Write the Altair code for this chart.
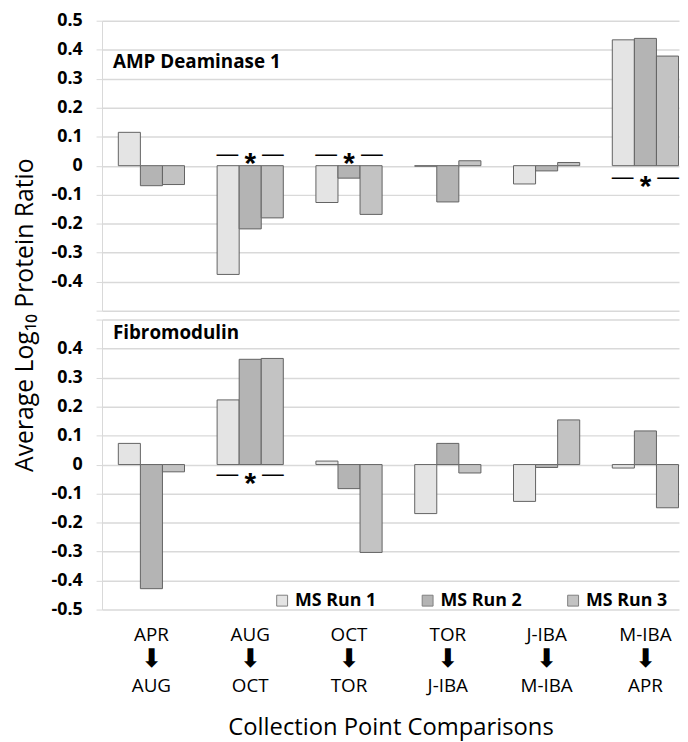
import altair as alt
import pandas as pd

# ---- data ----
from_pts = ["APR", "AUG", "OCT", "TOR", "J-IBA", "M-IBA"]
to_pts = ["AUG", "OCT", "TOR", "J-IBA", "M-IBA", "APR"]
runs = ["MS Run 1", "MS Run 2", "MS Run 3"]

amp_run1 = [0.115, -0.375, -0.127, -0.002, -0.063, 0.434]
amp_run2 = [-0.069, -0.218, -0.043, -0.125, -0.018, 0.439]
amp_run3 = [-0.065, -0.180, -0.168, 0.017, 0.011, 0.378]

fib_run1 = [0.073, 0.223, 0.012, -0.169, -0.127, -0.012]
fib_run2 = [-0.428, 0.363, -0.083, 0.073, -0.010, 0.116]
fib_run3 = [-0.025, 0.366, -0.303, -0.029, 0.154, -0.149]

amp_sig_cmp = ["AUG", "OCT", "M-IBA"]
amp_sig_val = [0.039, 0.039, -0.040]
fib_sig_cmp = ["AUG"]
fib_sig_val = [-0.032]

tick_vals = [0.5, 0.4, 0.3, 0.2, 0.1, 0, -0.1, -0.2, -0.3, -0.4, -0.5]

cats = [f"{a}|{b}" for a, b in zip(from_pts, to_pts)]
cat_of = dict(zip(from_pts, cats))


def bars_df(r1, r2, r3):
    rows = []
    for i, c in enumerate(cats):
        for run, vals in zip(runs, [r1, r2, r3]):
            rows.append({"cmp": c, "run": run, "value": vals[i]})
    return pd.DataFrame(rows)


def sig_df(cmps, vals):
    return pd.DataFrame({"cmp": [cat_of[c] for c in cmps], "value": vals})


W, H = 583, 293
FONT = "Open Sans"
colors = ["#e4e4e4", "#b4b4b4", "#c3c3c3"]
GRID = "#d9d9d9"

xscale = alt.Scale(domain=cats, paddingInner=0.33, paddingOuter=0.085, align=0.97)
yscale = alt.Scale(domain=[-0.5, 0.5], nice=False)
offscale = alt.Scale(domain=runs, paddingInner=0, paddingOuter=0)
cscale = alt.Scale(domain=runs, range=colors)


def yaxis(hide_val, title=None):
    kw = dict(
        values=tick_vals,
        labelExpr=f"datum.value == {hide_val} ? '' : '' + datum.value",
        labelFont=FONT, labelFontSize=18, labelFontWeight="bold", labelColor="black",
        labelPadding=14, tickSize=6, tickColor=GRID, domainColor=GRID,
        gridColor=GRID, gridWidth=1.5, labelAlign="right", labelOverlap=False,
    )
    if title:
        kw.update(title=title, titleX=-70, titleY=297, titleAngle=270, titleAlign="center",
                  titleBaseline="alphabetic", titleFont=FONT, titleFontSize=25,
                  titleFontWeight="normal", titleColor="black")
    else:
        kw.update(title=None)
    return alt.Axis(**kw)


def panel(df, sig, name, title_y, hide_val, xaxis, ytitle, legend, arrows=False):
    yax = yaxis(hide_val, ytitle)
    xenc = alt.X("cmp:N", scale=xscale, axis=xaxis, sort=cats)
    yenc = alt.Y("value:Q", scale=yscale, axis=yax)
    bars = alt.Chart(df).mark_bar(stroke="#626262", strokeWidth=1).encode(
        x=xenc,
        xOffset=alt.XOffset("run:N", scale=offscale, sort=runs),
        y=yenc,
        color=alt.Color("run:N", scale=cscale, legend=legend, sort=runs),
    )
    dash_l = alt.Chart(sig).mark_text(
        text="\u2014", font="Liberation Sans", fontSize=22, dx=-23, dy=7,
        baseline="alphabetic", color="black").encode(x=xenc, y=yenc)
    dash_r = alt.Chart(sig).mark_text(
        text="\u2014", font="Liberation Sans", fontSize=22, dx=23, dy=7,
        baseline="alphabetic", color="black").encode(x=xenc, y=yenc)
    star = alt.Chart(sig).mark_text(
        text="*", font="Liberation Sans", fontSize=30, fontWeight="bold", dy=19,
        baseline="alphabetic", color="black").encode(x=xenc, y=yenc)
    ttl = alt.Chart(pd.DataFrame({"t": [name]})).mark_text(
        align="left", baseline="alphabetic", font=FONT, fontSize=19,
        fontWeight="bold", color="black").encode(
        x=alt.value(11), y=alt.value(title_y), text="t:N")
    layers = [bars, dash_l, dash_r, star, ttl]
    if arrows:
        lab_df = pd.DataFrame({"cmp": cats, "to": to_pts})
        arr = alt.Chart(lab_df).mark_text(
            text="\u2b07", font="DejaVu Sans", fontSize=26,
            baseline="middle", color="black").encode(x=xenc, y=alt.value(H + 50))
        to_lab = alt.Chart(lab_df).mark_text(
            font=FONT, fontSize=19, baseline="alphabetic", color="black").encode(
            x=xenc, y=alt.value(H + 83), text="to:N")
        layers += [arr, to_lab]
    return alt.layer(*layers).properties(width=W, height=H)


top = panel(bars_df(amp_run1, amp_run2, amp_run3), sig_df(amp_sig_cmp, amp_sig_val),
            "AMP Deaminase 1", 48, -0.5, None, "Average Log\u2081\u2080 Protein Ratio", None)

xaxis_bottom = alt.Axis(
    title="Collection Point Comparisons",
    labelExpr="split(datum.value, '|')[0]",
    labelAngle=0, labelFont=FONT, labelFontSize=19, labelColor="black",
    labelPadding=16, labelBaseline="top",
    ticks=False, domain=False, grid=False,
    titleFont=FONT, titleFontSize=24, titleFontWeight="normal", titleColor="black",
    titlePadding=72,
)
legend = alt.Legend(
    title=None, orient="none", legendX=173, legendY=275, direction="horizontal",
    columns=3, symbolType="square", symbolSize=121, symbolStrokeColor="#7f7f7f",
    symbolStrokeWidth=1, labelFont=FONT, labelFontSize=18, labelFontWeight="bold",
    labelColor="black", labelOffset=4, columnPadding=42, padding=0,
)
bottom = panel(bars_df(fib_run1, fib_run2, fib_run3), sig_df(fib_sig_cmp, fib_sig_val),
               "Fibromodulin", 20, 0.5, xaxis_bottom, None, legend, arrows=True)

chart = alt.vconcat(top, bottom, spacing=9, bounds="flush").resolve_scale(
    color="independent"
).properties(
    padding={"left": 5, "top": 0, "right": 0, "bottom": 0}, background="white"
).configure_view(stroke=None)

chart.save("out.html", embed_options={"renderer": "svg", "actions": False})
